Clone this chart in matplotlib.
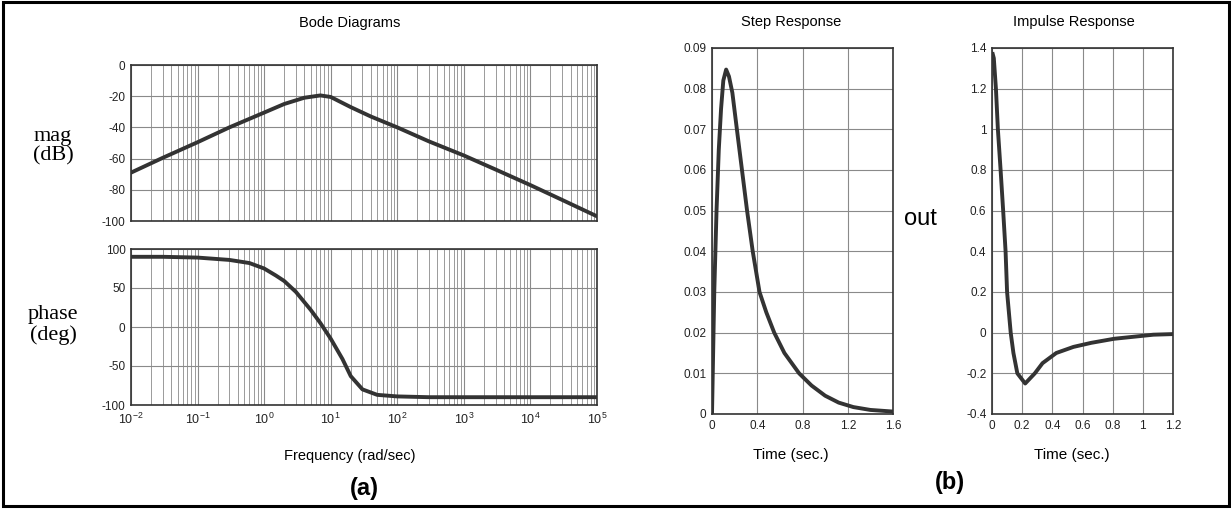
# Bode diagrams + step / impulse response (recreated)

import numpy as np
import matplotlib.pyplot as plt
from matplotlib.patches import Rectangle

plt.rcParams['font.family'] = ['Liberation Sans', 'DejaVu Sans']
plt.rcParams['mathtext.fontset'] = 'custom'
plt.rcParams['mathtext.rm'] = 'Liberation Sans'
plt.rcParams['axes.unicode_minus'] = False

# Bode magnitude (rad/sec, dB)
mag_w = [0.01, 0.03, 0.1, 0.3, 1, 2, 4, 7, 10, 20, 40, 100, 300, 1000, 3000, 1e4, 3e4, 1e5]
mag_db = [-69, -59.5, -49.5, -40, -30.5, -25, -21, -19.5, -20.5, -27, -33, -40, -49, -58, -67, -77, -86.5, -97]

# Bode phase (rad/sec, deg)
ph_w = [0.01, 0.03, 0.1, 0.3, 0.6, 1, 1.5, 2, 3, 5, 7, 10, 15, 20, 30, 50, 100, 300, 1e3, 1e4, 1e5]
ph_deg = [90, 90, 89, 86, 82, 75, 66, 59, 45, 22, 5, -15, -41, -63, -80, -87, -89, -90, -90, -90, -90]

# step response (sec, out)
step_t = [0, 0.02, 0.04, 0.06, 0.08, 0.10, 0.125, 0.15, 0.18, 0.22, 0.265, 0.31, 0.36,
          0.39, 0.42, 0.48, 0.55, 0.64, 0.77, 0.88, 1.0, 1.12, 1.25, 1.4, 1.6]
step_y = [0, 0.03, 0.05, 0.065, 0.075, 0.082, 0.0847, 0.083, 0.079, 0.07, 0.06, 0.05, 0.04,
          0.035, 0.03, 0.025, 0.02, 0.015, 0.01, 0.007, 0.0045, 0.0028, 0.0017, 0.001, 0.0006]

# impulse response (sec, out)
imp_t = [0.005, 0.012, 0.026, 0.039, 0.057, 0.074, 0.09, 0.1, 0.124, 0.142, 0.168, 0.22,
         0.284, 0.335, 0.426, 0.54, 0.658, 0.81, 0.94, 1.07, 1.2]
imp_y = [1.37, 1.35, 1.2, 1.0, 0.8, 0.6, 0.4, 0.2, 0, -0.1, -0.2, -0.25,
         -0.2, -0.15, -0.1, -0.07, -0.05, -0.03, -0.02, -0.01, -0.007]

W, H = 1231, 509
fig = plt.figure(figsize=(W / 100, H / 100), dpi=100)


def box(l, t, r, b):
    return [l / W, 1 - b / H, (r - l) / W, (b - t) / H]


def fx(x):
    return x / W


def fy(y):
    return 1 - y / H


line_c = '#333333'
line_w = 2.8


def style(ax):
    ax.tick_params(which='both', length=0, labelsize=8.5, pad=4, colors='#222222')
    for s in ax.spines.values():
        s.set_linewidth(1.2)
        s.set_color('#333333')
    ax.grid(True, which='major', color='#8a8a8a', linewidth=0.8)
    ax.set_axisbelow(True)


# magnitude
ax1 = fig.add_axes(box(131, 65, 597, 221))
ax1.semilogx(mag_w, mag_db, color=line_c, lw=line_w)
ax1.set_xlim(1e-2, 1e5)
ax1.set_ylim(-100, 0)
ax1.set_yticks([0, -20, -40, -60, -80, -100])
style(ax1)
ax1.grid(True, which='minor', axis='x', color='#9a9a9a', linewidth=0.7)
ax1.tick_params(axis='x', which='both', labelbottom=False)

# phase
ax2 = fig.add_axes(box(131, 249, 597, 405))
ax2.semilogx(ph_w, ph_deg, color=line_c, lw=line_w)
ax2.set_xlim(1e-2, 1e5)
ax2.set_ylim(-100, 100)
ax2.set_yticks([100, 50, 0, -50, -100])
decades = [1e-2, 1e-1, 1, 10, 1e2, 1e3, 1e4, 1e5]
ax2.set_xticks(decades)
ax2.set_xticklabels([r'$10^{%d}$' % int(np.log10(d)) for d in decades])
style(ax2)
ax2.grid(True, which='minor', axis='x', color='#9a9a9a', linewidth=0.7)
ax2.tick_params(axis='x', labelsize=9, pad=5)

# step response
ax3 = fig.add_axes(box(712, 48, 893, 414))
ax3.plot(step_t, step_y, color=line_c, lw=line_w)
ax3.set_xlim(0, 1.6)
ax3.set_ylim(0, 0.09)
ax3.set_xticks([0, 0.4, 0.8, 1.2, 1.6])
ax3.set_xticklabels(['0', '0.4', '0.8', '1.2', '1.6'])
ax3.set_yticks(np.arange(0, 0.091, 0.01))
ax3.set_yticklabels(['0'] + ['%.2f' % v for v in np.arange(0.01, 0.091, 0.01)])
style(ax3)

# impulse response
ax4 = fig.add_axes(box(992, 48, 1173, 414))
ax4.plot(imp_t, imp_y, color=line_c, lw=line_w)
ax4.set_xlim(0, 1.2)
ax4.set_ylim(-0.4, 1.4)
ax4.set_xticks([0, 0.2, 0.4, 0.6, 0.8, 1.0, 1.2])
ax4.set_xticklabels(['0', '0.2', '0.4', '0.6', '0.8', '1', '1.2'])
ax4.set_yticks([-0.4, -0.2, 0, 0.2, 0.4, 0.6, 0.8, 1.0, 1.2, 1.4])
ax4.set_yticklabels(['-0.4', '-0.2', '0', '0.2', '0.4', '0.6', '0.8', '1', '1.2', '1.4'])
style(ax4)

# texts
fig.text(fx(350), fy(23), 'Bode Diagrams', ha='center', va='center', fontsize=10.5)
fig.text(fx(791), fy(22), 'Step Response', ha='center', va='center', fontsize=10.5)
fig.text(fx(1074), fy(22), 'Impulse Response', ha='center', va='center', fontsize=10.5)
fig.text(fx(53), fy(146), 'mag\n(dB)', ha='center', va='center', fontsize=16,
         family='Liberation Serif', linespacing=1.05)
fig.text(fx(53), fy(325), 'phase\n(deg)', ha='center', va='center', fontsize=16,
         family='Liberation Serif', linespacing=1.05)
fig.text(fx(350), fy(456), 'Frequency (rad/sec)', ha='center', va='center', fontsize=10.5)
fig.text(fx(791), fy(455), 'Time (sec.)', ha='center', va='center', fontsize=11)
fig.text(fx(1072), fy(455), 'Time (sec.)', ha='center', va='center', fontsize=11)
fig.text(fx(920), fy(219), 'out', ha='center', va='center', fontsize=17)
fig.text(fx(364), fy(489), '(a)', ha='center', va='center', fontsize=17, fontweight='bold')
fig.text(fx(950), fy(483), '(b)', ha='center', va='center', fontsize=17, fontweight='bold')

# outer frame
fig.patches.append(Rectangle((fx(3), fy(506)), fx(1226), (506 - 2) / H,
                             transform=fig.transFigure, fill=False,
                             edgecolor='black', linewidth=2.2))

fig.savefig('out.png', dpi=100)
